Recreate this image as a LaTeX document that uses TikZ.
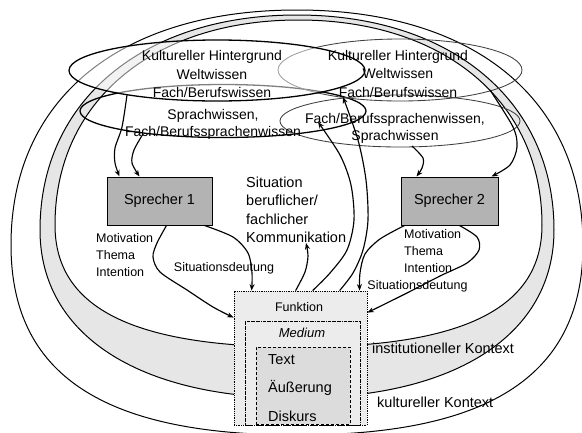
\documentclass[tikz,border=0pt]{standalone}
\usepackage{fontspec}
\setmainfont{Liberation Sans}
\usetikzlibrary{arrows.meta,shapes.geometric}
\definecolor{bandgray}{HTML}{E6E6E6}
\definecolor{spgray}{HTML}{B3B3B3}
\definecolor{boxgray}{HTML}{ECECEC}
\definecolor{txtgray}{HTML}{DCDCDC}
\newcommand\eggpath[7]{(#1-#3,#2) .. controls (#1-#3,#2-#6*#4) and (#1-#6*#3,#2-#4) .. (#1,#2-#4) .. controls (#1+#6*#3,#2-#4) and (#1+#3,#2-#6*#4) .. (#1+#3,#2) .. controls (#1+#3,#2+#7*#5) and (#1+#7*#3,#2+#5) .. (#1,#2+#5) .. controls (#1-#7*#3,#2+#5) and (#1-#3,#2+#7*#5) .. (#1-#3,#2) -- cycle}
\newcommand\szE{\fontsize{14}{18.5}\selectfont}
\newcommand\szL{\fontsize{14.5}{18.5}\selectfont}
\newcommand\szS{\fontsize{12.5}{17}\selectfont}
\begin{document}
\begin{tikzpicture}[x=1pt,y=-1pt,
  ctx/.style={draw=black,line width=1pt},
  kblack/.style={ellipse,draw=black,line width=1.3pt,inner sep=0pt},
  kgray/.style={ellipse,draw=black!75,line width=0.85pt,inner sep=0pt},
  spbox/.style={draw=black,line width=1pt,fill=spgray,inner sep=0pt,font=\szL},
  arr/.style={line width=1.15pt,-{Stealth[length=6.5pt,width=5pt]}},
  lab/.style={inner sep=0pt,align=center}]
\useasboundingbox (0,0) rectangle (582,432);
% context shapes
\draw[ctx] \eggpath{297}{245}{286}{235}{190}{0.62}{0.68};
\fill[bandgray] \eggpath{297}{230}{257}{215}{168}{0.6}{0.62};
\draw[ctx] \eggpath{297}{230}{257}{215}{168}{0.6}{0.62};
\filldraw[ctx,fill=white] \eggpath{298.5}{225}{243.5}{205}{122}{0.6}{0.68};
% knowledge ellipses
\node[kblack,minimum width=286pt,minimum height=53pt] (ellB) at (223,111) {};
\node[kgray,minimum width=240pt,minimum height=52pt] (ellD) at (400,121) {};
\node[kgray,minimum width=244pt,minimum height=62pt] (ellC) at (400,70) {};
\node[kblack,minimum width=296pt,minimum height=61pt,fill=white,fill opacity=0.5] (ellA) at (217,70.5) {};
% boxes
\node[spbox,minimum width=105pt,minimum height=48pt] (sp1) at (159.5,201) {Sprecher 1};
\node[spbox,minimum width=97pt,minimum height=48pt] (sp2) at (449.5,201) {Sprecher 2};
\node[draw=black,densely dotted,line width=0.8pt,fill=boxgray,minimum width=133pt,minimum height=134pt] (funk) at (300.5,358) {};
\node[draw=black,densely dashdotted,line width=0.8pt,fill=boxgray,minimum width=115pt,minimum height=104pt] (med) at (302.5,373) {};
\node[draw=black,densely dashed,line width=0.8pt,fill=txtgray,minimum width=94pt,minimum height=77pt] (txt) at (303,385.5) {};
% start coordinates on the ellipses
\coordinate (sA) at (127,95);
\coordinate (sB) at (143,134);
\coordinate (sD) at (412,146);
\coordinate (sC) at (490,90);
\coordinate (eKomm) at (306,243);
\coordinate (eD) at (318,122);
\coordinate (eC) at (343,97);
% arrows to speakers
\draw[arr] plot[smooth] coordinates {(sA) (122,127) (115,148) (115,163) ([xshift=13pt]sp1.north west)};
\draw[arr] plot[smooth] coordinates {(sB) (134,150) (132,163) ([xshift=33pt]sp1.north west)};
\draw[arr] plot[smooth] coordinates {(sD) (423,158) (422,168) ([xshift=16pt]sp2.north west)};
\draw[arr] plot[smooth] coordinates {(sC) (513,127) (517,147) (510,165) ([xshift=91pt]sp2.north west)};
% arrows from speakers to box
\draw[arr] plot[smooth] coordinates {([xshift=60pt]sp1.south west) (157,243) (153,257) (160,272) (187,290) (213,307) ([yshift=-27pt]funk.north west)};
\draw[arr] plot[smooth] coordinates {([xshift=98pt]sp1.south west) (233,237) (248,253) (252,273) ([xshift=18pt]funk.north west)};
\draw[arr] plot[smooth] coordinates {([xshift=4pt]sp2.south west) (380,239) (365,254) (360,273) ([xshift=126pt]funk.north west)};
\draw[arr] plot[smooth] coordinates {([xshift=59pt]sp2.south west) (477,237) (479,250) (467,263) (440,276) (407,293) ([yshift=-22pt]funk.north east)};
% arrows from box upward
\draw[arr] plot[smooth] coordinates {([xshift=62pt]funk.north west) (305,272) (308,256) (eKomm)};
\draw[arr] plot[smooth] coordinates {([xshift=79pt]funk.north west) (330,273) (347,250) (354,220) (351,185) (340,155) (eD)};
\draw[arr] plot[smooth] coordinates {([xshift=106pt]funk.north west) (353,273) (363,250) (368,220) (366,180) (358,140) (eC)};
% texts
\node[lab,font=\szE] (tA) at (212,74) {Kultureller Hintergrund\\Weltwissen\\Fach/Berufswissen};
\node[lab,font=\szE] (tB) at (213,124) {Sprachwissen,\\[-1.5pt]Fach/Berufssprachenwissen};
\node[lab,font=\szE] (tC) at (398,73.5) {Kultureller Hintergrund\\Weltwissen\\Fach/Berufswissen};
\node[lab,font=\szE] (tD) at (395,128.5) {Fach/Berufssprachenwissen,\\[-1.5pt]Sprachwissen};
\node[lab,font=\szL,anchor=west,align=left] (tSit) at (246,210) {Situation\\beruflicher/\\fachlicher\\Kommunikation};
\node[lab,font=\szS,anchor=west,align=left] (tMot1) at (96,255.5) {Motivation\\Thema\\Intention};
\node[lab,font=\szS,anchor=west,align=left] (tMot2) at (404,251) {Motivation\\Thema\\Intention};
\node[lab,font=\szS] (tSd1) at (224,268) {Situationsdeutung};
\node[lab,font=\szS] (tSd2) at (417.5,286) {Situationsdeutung};
\node[lab,font=\szL,anchor=west] (tInst) at (372,348) {institutioneller Kontext};
\node[lab,font=\szL,anchor=west] (tKult) at (377,402) {kultureller Kontext};
\node[lab,font=\szS] (tFunk) at (299,307) {Funktion};
\node[lab,font=\fontsize{13}{16}\selectfont\itshape] (tMed) at (302,333) {Medium};
\node[lab,font=\szL,anchor=west] (tText) at (268,360) {Text};
\node[lab,font=\szL,anchor=west] (tAeu) at (268,388) {Äußerung};
\node[lab,font=\szL,anchor=west] (tDis) at (268,416) {Diskurs};
\end{tikzpicture}
\end{document}
